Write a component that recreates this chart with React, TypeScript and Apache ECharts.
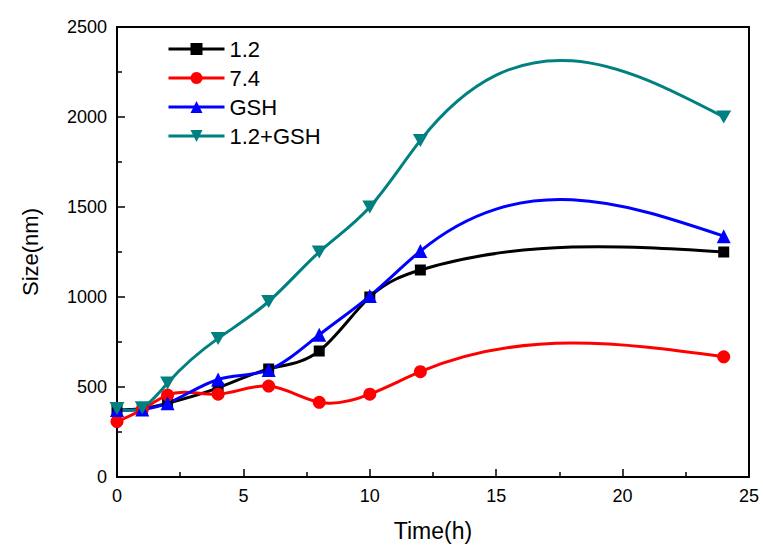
import React, { useEffect, useRef } from "react";
import * as echarts from "echarts";

const times = [0, 1, 2, 4, 6, 8, 10, 12, 24];
const s12 = [372, 380, 410, 495, 600, 700, 1000, 1150, 1250];
const s74 = [308, 375, 455, 460, 505, 415, 460, 585, 668];
const sGSH = [372, 375, 410, 542, 595, 790, 1005, 1255, 1338];
const s12GSH = [380, 385, 522, 770, 975, 1250, 1500, 1870, 2000];

const xTicks = { min: 0, max: 25, interval: 5 };
const yTicks = { min: 0, max: 2500, interval: 500 };

const FONT = "'Liberation Sans', Arial, sans-serif";

// slopes of a natural cubic spline through the data points (for curve rendering)
function splineSlopes(xs: number[], ys: number[]): number[] {
  const n = xs.length;
  const h: number[] = [];
  for (let i = 0; i < n - 1; i++) h.push(xs[i + 1] - xs[i]);
  const a = new Array(n).fill(0);
  const b = new Array(n).fill(1);
  const c = new Array(n).fill(0);
  const d = new Array(n).fill(0);
  for (let i = 1; i < n - 1; i++) {
    a[i] = h[i - 1];
    b[i] = 2 * (h[i - 1] + h[i]);
    c[i] = h[i];
    d[i] = 6 * ((ys[i + 1] - ys[i]) / h[i] - (ys[i] - ys[i - 1]) / h[i - 1]);
  }
  const cp = new Array(n).fill(0);
  const dp = new Array(n).fill(0);
  cp[0] = c[0] / b[0];
  dp[0] = d[0] / b[0];
  for (let i = 1; i < n; i++) {
    const m = b[i] - a[i] * cp[i - 1];
    cp[i] = c[i] / m;
    dp[i] = (d[i] - a[i] * dp[i - 1]) / m;
  }
  const M = new Array(n).fill(0);
  M[n - 1] = dp[n - 1];
  for (let i = n - 2; i >= 0; i--) M[i] = dp[i] - cp[i] * M[i + 1];
  const s: number[] = [];
  for (let i = 0; i < n - 1; i++) {
    s.push((ys[i + 1] - ys[i]) / h[i] - (h[i] * (2 * M[i] + M[i + 1])) / 6);
  }
  const k = n - 2;
  s.push((ys[k + 1] - ys[k]) / h[k] + (h[k] * (M[k] + 2 * M[k + 1])) / 6);
  return s;
}

function curveSeries(name: string, ys: number[], color: string) {
  const slopes = splineSlopes(times, ys);
  return {
    type: "custom",
    name: name + "-curve",
    z: 1,
    silent: true,
    data: times.map((t, i) => [t, ys[i]]),
    encode: { x: 0, y: 1 },
    renderItem: (params: any, api: any) => {
      const i = params.dataIndex;
      if (i >= times.length - 1) return null;
      const x0 = times[i];
      const x1 = times[i + 1];
      const y0 = ys[i];
      const y1 = ys[i + 1];
      const hh = x1 - x0;
      const p0 = api.coord([x0, y0]);
      const c1 = api.coord([x0 + hh / 3, y0 + (slopes[i] * hh) / 3]);
      const c2 = api.coord([x1 - hh / 3, y1 - (slopes[i + 1] * hh) / 3]);
      const p3 = api.coord([x1, y1]);
      return {
        type: "bezierCurve",
        shape: {
          x1: p0[0], y1: p0[1],
          cpx1: c1[0], cpy1: c1[1],
          cpx2: c2[0], cpy2: c2[1],
          x2: p3[0], y2: p3[1],
        },
        style: { stroke: color, lineWidth: 3, fill: null },
      };
    },
  };
}

function markerSeries(name: string, ys: number[], color: string, symbol: string, size: any) {
  return {
    type: "line",
    name,
    z: 3,
    data: times.map((t, i) => [t, ys[i]]),
    symbol,
    symbolSize: size,
    showSymbol: true,
    itemStyle: { color },
    lineStyle: { color, width: 0, opacity: 0 },
  };
}

const DOWN_TRI = "path://M0,0L20,0L10,17Z";

export default function App() {
  const ref = useRef<HTMLDivElement>(null);
  useEffect(() => {
    if (!ref.current) return;
    const chart = echarts.init(ref.current, undefined, { renderer: "svg" });
    const axisLine = { show: true, onZero: false, lineStyle: { color: "#000", width: 2 } };
    const fmt = (v: number) => String(v);
    chart.setOption({
      animation: false,
      backgroundColor: "#fff",
      textStyle: { fontFamily: FONT },
      grid: { left: 117, right: 14, top: 27, bottom: 65, containLabel: false },
      legend: {
        orient: "vertical",
        left: 167,
        top: 38,
        padding: 0,
        itemWidth: 56,
        itemHeight: 15,
        itemGap: 7,
        textStyle: { fontSize: 22, color: "#000", fontFamily: FONT },
        lineStyle: { width: 3, opacity: 1 },
        data: ["1.2", "7.4", "GSH", "1.2+GSH"],
      },
      xAxis: [
        {
          type: "value",
          min: xTicks.min,
          max: xTicks.max,
          interval: xTicks.interval,
          name: "Time(h)",
          nameLocation: "middle",
          nameGap: 42,
          nameTextStyle: { fontSize: 23, color: "#000", fontFamily: FONT },
          axisLine,
          axisTick: { show: true, inside: true, length: 8, lineStyle: { color: "#000", width: 1.5 } },
          minorTick: { show: true, splitNumber: 2, length: 5, lineStyle: { color: "#000", width: 1.5 } },
          axisLabel: { fontSize: 18, color: "#000", margin: 10, fontFamily: FONT, formatter: fmt },
          splitLine: { show: false },
        },
        {
          type: "value",
          position: "top",
          min: xTicks.min,
          max: xTicks.max,
          axisLine,
          axisTick: { show: false },
          axisLabel: { show: false },
          splitLine: { show: false },
        },
      ],
      yAxis: [
        {
          type: "value",
          min: yTicks.min,
          max: yTicks.max,
          interval: yTicks.interval,
          name: "Size(nm)",
          nameLocation: "middle",
          nameGap: 76,
          nameTextStyle: { fontSize: 22, color: "#000", fontFamily: FONT },
          axisLine,
          axisTick: { show: true, inside: true, length: 8, lineStyle: { color: "#000", width: 1.5 } },
          minorTick: { show: true, splitNumber: 2, length: 5, lineStyle: { color: "#000", width: 1.5 } },
          axisLabel: { fontSize: 18, color: "#000", margin: 10, fontFamily: FONT, formatter: fmt },
          splitLine: { show: false },
        },
        {
          type: "value",
          position: "right",
          min: yTicks.min,
          max: yTicks.max,
          axisLine,
          axisTick: { show: false },
          axisLabel: { show: false },
          splitLine: { show: false },
        },
      ],
      series: [
        curveSeries("1.2", s12, "#000000"),
        curveSeries("7.4", s74, "#ff0000"),
        curveSeries("GSH", sGSH, "#0000ff"),
        curveSeries("1.2+GSH", s12GSH, "#008080"),
        markerSeries("1.2", s12, "#000000", "rect", 11),
        markerSeries("7.4", s74, "#ff0000", "circle", 13),
        markerSeries("GSH", sGSH, "#0000ff", "triangle", 14),
        markerSeries("1.2+GSH", s12GSH, "#008080", DOWN_TRI, [15, 13]),
      ],
    });
    return () => chart.dispose();
  }, []);
  return (
    <div
      ref={ref}
      style={{ position: "fixed", left: 0, top: 0, width: 763, height: 547, background: "#fff" }}
    />
  );
}
